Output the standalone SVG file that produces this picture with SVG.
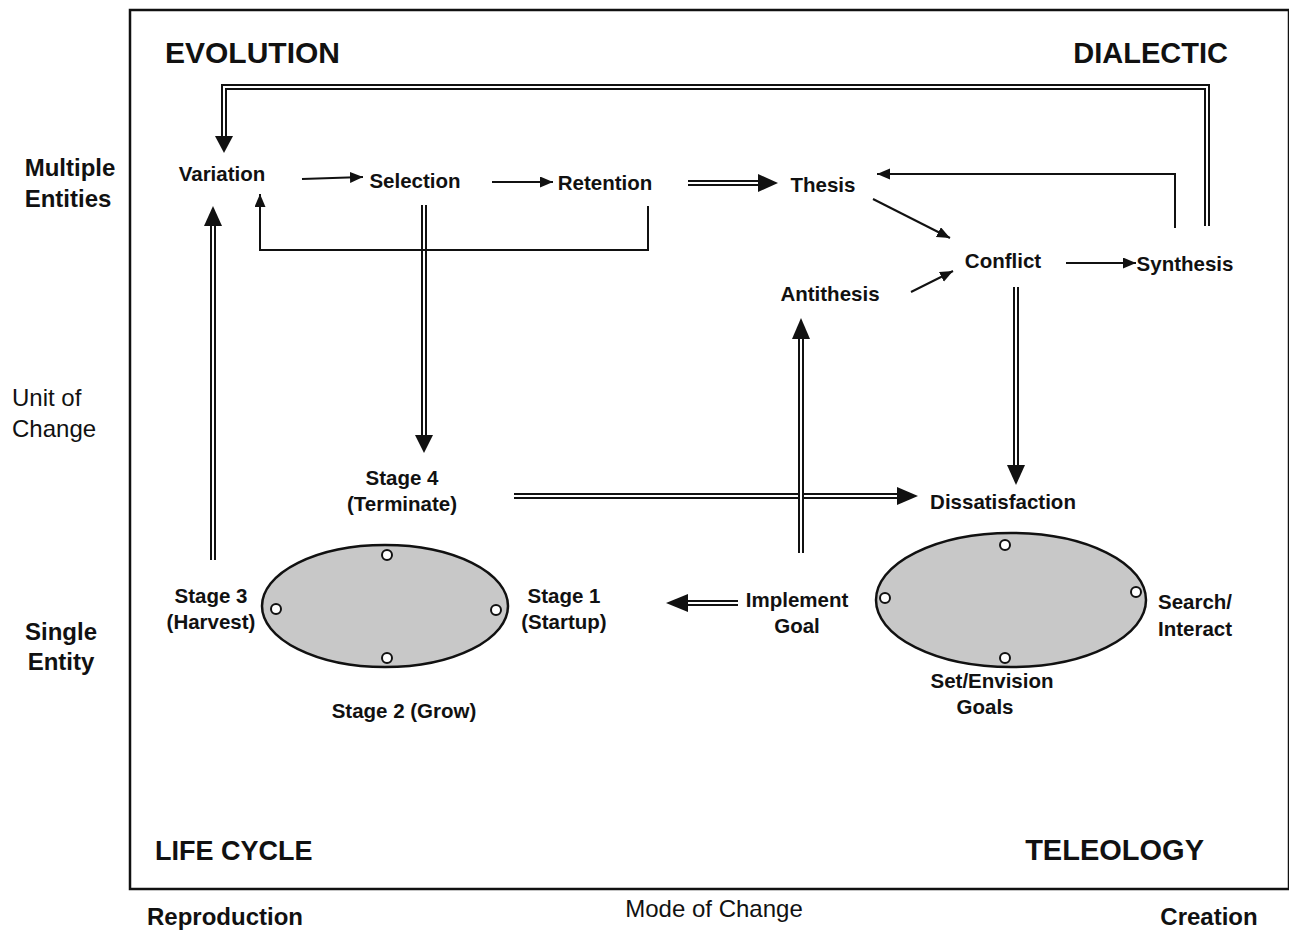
<svg xmlns="http://www.w3.org/2000/svg" width="1289" height="931" viewBox="0 0 1289 931">
<defs>
<style>
text{font-family:"Liberation Sans",Arial,sans-serif;fill:#111}
.t{font-size:29px;font-weight:bold}
.n{font-size:20.5px;font-weight:bold;text-anchor:middle}
.ax{font-size:24px;font-weight:bold;text-anchor:middle}
.r{font-size:24px}
.s{fill:none;stroke:#111;stroke-width:2}
.dbo{fill:none;stroke:#111;stroke-width:6}
.dbi{fill:none;stroke:#fff;stroke-width:2}
.ah{fill:#111}
.ell{fill:#c8c8c8;stroke:#111;stroke-width:2.5}
.dot{fill:#fff;stroke:#111;stroke-width:2}
</style>
<marker id="arr" markerUnits="userSpaceOnUse" markerWidth="14" markerHeight="12" refX="13" refY="5.5" orient="auto">
<path d="M0,0 L13,5.5 L0,11 z" fill="#111"/>
</marker>
</defs>
<rect width="1289" height="931" fill="#fff"/>
<rect x="130" y="10" width="1159" height="879" fill="none" stroke="#111" stroke-width="2.5"/>

<g id="quadrant-labels">
<text class="t" x="165" y="63" style="font-size:30px">EVOLUTION</text>
<text class="t" x="1228" y="63" text-anchor="end">DIALECTIC</text>
<text class="t" x="155" y="860" style="font-size:27px">LIFE CYCLE</text>
<text class="t" x="1204" y="860" text-anchor="end">TELEOLOGY</text>
</g>

<g id="axis-labels">
<text class="ax" x="70" y="176">Multiple</text>
<text class="ax" x="68" y="207">Entities</text>
<text class="r" x="12" y="406">Unit of</text>
<text class="r" x="12" y="437">Change</text>
<text class="ax" x="61" y="640">Single</text>
<text class="ax" x="61" y="670">Entity</text>
<text class="ax" x="225" y="925">Reproduction</text>
<text class="r" x="714" y="917" text-anchor="middle">Mode of Change</text>
<text class="ax" x="1209" y="925">Creation</text>
</g>

<g id="connectors">
<path class="dbo" d="M1207,226 L1207,87 L224,87 L224,138"/>
<path class="dbi" d="M1207,226 L1207,87 L224,87 L224,138"/>
<polygon class="ah" points="215,136 233,136 224,153"/>

<path class="dbo" d="M688,183 L760,183"/>
<path class="dbi" d="M688,183 L760,183"/>
<polygon class="ah" points="758,174 758,192 778,183"/>

<path class="dbo" d="M424,205 L424,437"/>
<path class="dbi" d="M424,205 L424,437"/>
<polygon class="ah" points="415,435 433,435 424,453"/>

<path class="dbo" d="M514,496 L899,496"/>
<path class="dbi" d="M514,496 L899,496"/>
<polygon class="ah" points="897,487 897,505 918,496"/>

<path class="dbo" d="M1016,287 L1016,467"/>
<path class="dbi" d="M1016,287 L1016,467"/>
<polygon class="ah" points="1007,465 1025,465 1016,485"/>

<path class="dbo" d="M801,553 L801,337"/>
<path class="dbi" d="M801,553 L801,337"/>
<polygon class="ah" points="792,339 810,339 801,318"/>

<path class="dbo" d="M738,603 L686,603"/>
<path class="dbi" d="M738,603 L686,603"/>
<polygon class="ah" points="688,594 688,612 666,603"/>

<path class="dbo" d="M213,560 L213,224"/>
<path class="dbi" d="M213,560 L213,224"/>
<polygon class="ah" points="204,226 222,226 213,206"/>

<path class="s" d="M302,179 L363,177" marker-end="url(#arr)"/>
<path class="s" d="M492,182 L553,182" marker-end="url(#arr)"/>
<path class="s" d="M648,206 L648,250 L260,250 L260,194" marker-end="url(#arr)"/>
<path class="s" d="M1175,228 L1175,174 L877,174" marker-end="url(#arr)"/>
<path class="s" d="M873,199 L950,238" marker-end="url(#arr)"/>
<path class="s" d="M911,292 L953,271" marker-end="url(#arr)"/>
<path class="s" d="M1066,263 L1136,263" marker-end="url(#arr)"/>
</g>

<g id="life-cycle-ellipse">
<ellipse class="ell" cx="385" cy="606" rx="123" ry="61"/>
<circle class="dot" cx="387" cy="555" r="5"/>
<circle class="dot" cx="387" cy="658" r="5"/>
<circle class="dot" cx="276" cy="609" r="5"/>
<circle class="dot" cx="496" cy="610" r="5"/>
</g>

<g id="teleology-ellipse">
<ellipse class="ell" cx="1011" cy="600" rx="135" ry="67"/>
<circle class="dot" cx="1005" cy="545" r="5"/>
<circle class="dot" cx="1005" cy="658" r="5"/>
<circle class="dot" cx="885" cy="598" r="5"/>
<circle class="dot" cx="1136" cy="592" r="5"/>
</g>

<g id="variation"><text class="n" x="222" y="181">Variation</text></g>
<g id="selection"><text class="n" x="415" y="188">Selection</text></g>
<g id="retention"><text class="n" x="605" y="190">Retention</text></g>
<g id="thesis"><text class="n" x="823" y="192">Thesis</text></g>
<g id="conflict"><text class="n" x="1003" y="268">Conflict</text></g>
<g id="synthesis"><text class="n" x="1185" y="271">Synthesis</text></g>
<g id="antithesis"><text class="n" x="830" y="301">Antithesis</text></g>
<g id="stage4"><text class="n" x="402" y="485">Stage 4</text><text class="n" x="402" y="511">(Terminate)</text></g>
<g id="dissatisfaction"><text class="n" x="1003" y="509">Dissatisfaction</text></g>
<g id="stage3"><text class="n" x="211" y="603">Stage 3</text><text class="n" x="211" y="629">(Harvest)</text></g>
<g id="stage1"><text class="n" x="564" y="603">Stage 1</text><text class="n" x="564" y="629">(Startup)</text></g>
<g id="stage2"><text class="n" x="404" y="718">Stage 2 (Grow)</text></g>
<g id="implement-goal"><text class="n" x="797" y="607">Implement</text><text class="n" x="797" y="633">Goal</text></g>
<g id="search-interact"><text class="n" x="1195" y="609">Search/</text><text class="n" x="1195" y="636">Interact</text></g>
<g id="set-envision-goals"><text class="n" x="992" y="688">Set/Envision</text><text class="n" x="985" y="714">Goals</text></g>
</svg>
